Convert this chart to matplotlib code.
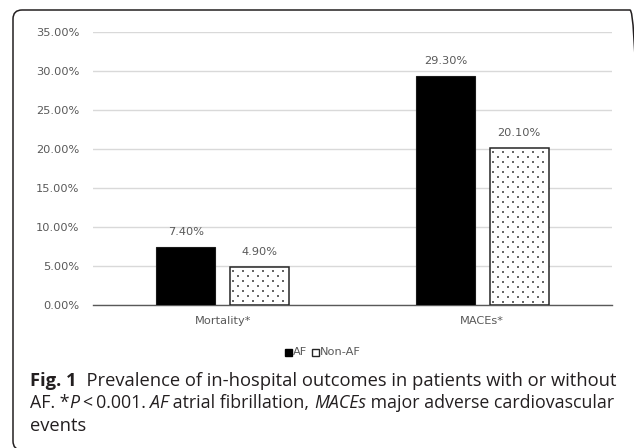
import matplotlib
matplotlib.use("Agg")
import matplotlib.pyplot as plt
from matplotlib.patches import FancyBboxPatch, Rectangle
import numpy as np

categories = ["Mortality*", "MACEs*"]
series_names = ["AF", "Non-AF"]
af_values = [7.40, 29.30]
nonaf_values = [4.90, 20.10]
yticks = [0, 5, 10, 15, 20, 25, 30, 35]

W, H = 634, 448
fig = plt.figure(figsize=(W / 100, H / 100), dpi=100)
fig.patch.set_facecolor("white")

# rounded frame (extends past right and bottom edges)
fl, ft, fr, fb = 13, 10, 639, 450
rs = 9 / W
frame = FancyBboxPatch((fl / W, 1 - fb / H), (fr - fl) / W, (fb - ft) / H,
                       boxstyle=f"round,pad=0,rounding_size={rs}",
                       transform=fig.transFigure, fill=False,
                       edgecolor="#231f20", linewidth=1.1, mutation_aspect=W / H)
fig.patches.append(frame)

ax = fig.add_axes([93 / W, 1 - 305 / H, 519 / W, 273 / H])
x = np.arange(len(categories))
bw = 0.227
off = 0.142
tick_color = "#595959"
fs = 8.2

b1 = ax.bar(x - off, af_values, bw, color="black", edgecolor="#1a1a1a", linewidth=0.8, zorder=3)
b2 = ax.bar(x + off, nonaf_values, bw, color="white", edgecolor="#262626", linewidth=1.1, zorder=3)

ax.set_xlim(-0.5, 1.5)
ax.set_ylim(0, 35)

# dotted texture for Non-AF bars (staggered dots, clipped to each bar)
fig.canvas.draw()
inv = ax.transData.inverted()
for r in b2:
    (x0, y0), (x1, y1) = ax.transData.transform([(r.get_x(), 0), (r.get_x() + r.get_width(), r.get_height())])
    pts = []
    row = 0
    py = y1 - 4
    while py > y0 + 1:
        px = x0 + (3 if row % 2 == 0 else 8)
        while px < x1 - 1:
            pts.append((px, py))
            px += 10
        py -= 5
        row += 1
    if pts:
        d = inv.transform(np.array(pts))
        sc = ax.scatter(d[:, 0], d[:, 1], s=0.9, marker="s", color="#666666",
                        linewidths=0, zorder=4)
        sc.set_clip_path(r)

for bars, vals in ((b1, af_values), (b2, nonaf_values)):
    for r, v in zip(bars, vals):
        ax.text(r.get_x() + r.get_width() / 2, v + 1.3, f"{v:.2f}%", ha="center", va="bottom",
                fontsize=fs, color=tick_color)

ax.set_yticks(yticks)
ax.set_yticklabels([f"{t:.2f}%" for t in yticks], fontsize=fs, color=tick_color)
ax.set_xticks(x)
ax.set_xticklabels(categories, fontsize=fs, color=tick_color)
ax.tick_params(axis="y", length=0, pad=10)
ax.tick_params(axis="x", length=0, pad=8)
ax.grid(axis="y", color="#d9d9d9", linewidth=1.0, zorder=0)
ax.set_axisbelow(True)
for s in ("top", "right", "left"):
    ax.spines[s].set_visible(False)
ax.spines["bottom"].set_color("#595959")
ax.spines["bottom"].set_linewidth(1.0)

# legend
lg = [
    ("black", "black", "AF"),
    ("white", "#262626", "Non-AF"),
]
fig.canvas.draw()
renderer = fig.canvas.get_renderer()
lx = 285
ly = 352
for fc, ec, name in lg:
    sq = Rectangle(((lx) / W, 1 - (ly + 3.5) / H), 7 / W, 7 / H, transform=fig.transFigure,
                   facecolor=fc, edgecolor=ec, linewidth=1.0)
    fig.patches.append(sq)
    t = fig.text((lx + 8) / W, 1 - ly / H, name, fontsize=fs, color=tick_color,
                 va="center", ha="left")
    lx += 8 + t.get_window_extent(renderer=renderer).width + 5

# caption
cap_color = "#231f20"
cap_family = "Open Sans"
lines = [
    [("Fig. 1", "bold", "normal"), ("  Prevalence of in-hospital outcomes in patients with or without", "normal", "normal")],
    [("AF. *", "normal", "normal"), ("P", "normal", "italic"), ("\u2009<\u20090.001. ", "normal", "normal"),
     ("AF", "normal", "italic"), (" atrial fibrillation, ", "normal", "normal"),
     ("MACEs", "normal", "italic"), (" major adverse cardiovascular", "normal", "normal")],
    [("events", "normal", "normal")],
]
sizes = [13.2, 12.75, 13.2]
baselines = [386, 408.5, 431]
for parts, yb, sz in zip(lines, baselines, sizes):
    xpos = 30
    for txt, weight, style in parts:
        t = fig.text(xpos / W, 1 - yb / H, txt, fontsize=sz, fontweight=weight,
                     fontstyle=style, color=cap_color, family=[cap_family, "DejaVu Sans"],
                     va="baseline", ha="left")
        bb = t.get_window_extent(renderer=renderer)
        xpos += bb.width

fig.savefig("out.png", dpi=100)
